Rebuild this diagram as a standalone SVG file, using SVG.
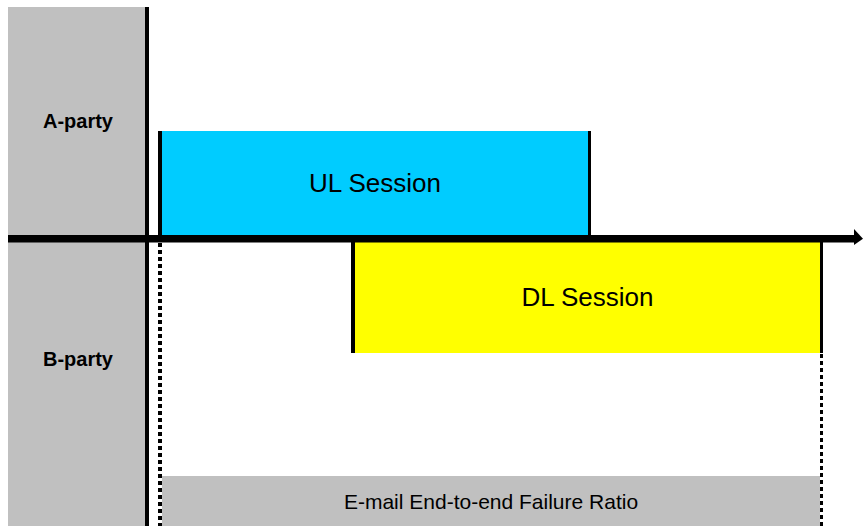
<svg xmlns="http://www.w3.org/2000/svg" width="863" height="526" viewBox="0 0 863 526">
<style>
.lbl{font-family:"Liberation Sans",Arial,sans-serif;fill:#000;text-anchor:middle}
.party{font-size:20px;font-weight:bold}
.sess{font-size:26px}
.bar{font-size:21px}
.solid{stroke:#000;stroke-width:4;fill:none}
.dash{stroke:#000;stroke-width:4;fill:none;stroke-dasharray:4 3}
</style>
<rect width="863" height="526" fill="#fff"/>
<g id="parties">
<rect x="8" y="7" width="137" height="519" fill="#c0c0c0"/>
<text class="lbl party" x="78" y="128">A-party</text>
<text class="lbl party" x="78" y="366">B-party</text>
</g>
<g id="ul-session">
<rect x="162" y="131" width="426" height="104" fill="#00ccff"/>
<text class="lbl sess" x="375" y="192">UL Session</text>
</g>
<g id="dl-session">
<rect x="355" y="242" width="465" height="111" fill="#ffff00"/>
<text class="lbl sess" x="587.5" y="306">DL Session</text>
</g>
<g id="failure-ratio">
<rect x="162" y="476" width="658" height="50" fill="#c0c0c0"/>
<text class="lbl bar" x="491" y="509">E-mail End-to-end Failure Ratio</text>
</g>
<g id="connectors">
<line class="solid" x1="147" y1="7" x2="147" y2="526"/>
<line class="solid" x1="160" y1="131" x2="160" y2="238"/>
<line class="solid" x1="589.5" y1="131" x2="589.5" y2="238" style="stroke-width:3"/>
<line class="solid" x1="353" y1="238" x2="353" y2="353"/>
<line class="solid" x1="821.5" y1="238" x2="821.5" y2="353" style="stroke-width:3"/>
<line class="dash" x1="160" y1="243" x2="160" y2="526"/>
<line class="dash" x1="821.5" y1="354" x2="821.5" y2="526" style="stroke-width:3"/>
<rect x="8" y="235" width="848" height="7.5" fill="#000"/>
<polygon points="854,229 863,238.7 854,245" fill="#000"/>
</g>
</svg>
